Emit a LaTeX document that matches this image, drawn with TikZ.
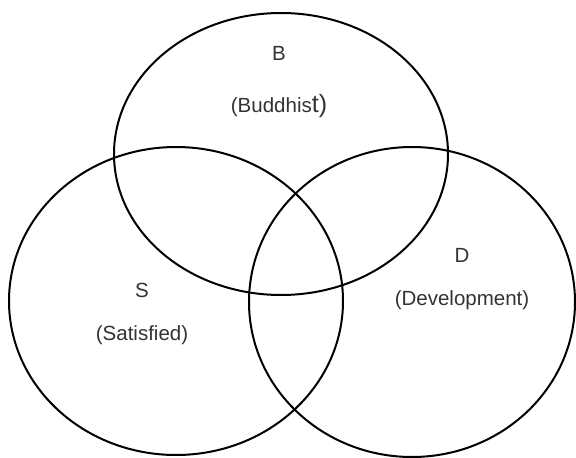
\documentclass[tikz,border=0pt]{standalone}
\usepackage{fontspec}
\setmainfont{Liberation Sans}
\usepackage{tikz}

\tikzset{
  set/.style={draw, line width=2pt},
  setname/.style={text=black!80, font=\fontsize{20.5}{24}\selectfont}
}

\begin{document}
\begin{tikzpicture}[x=1pt, y=-1pt]
  \useasboundingbox (0, 0) rectangle (576, 458);
  \draw [set] (281, 154) ellipse [x radius=167, y radius=141];
  \draw [set] (176, 301) ellipse [x radius=167, y radius=154];
  \draw [set] (412, 302) ellipse [x radius=163, y radius=155];
  \node (Bletter) at (279, 53) [setname] {B};
  \node (Bname) at (279, 106) [setname] {(Buddhis{\fontsize{25}{28}\selectfont t)}};
  \node (Sletter) at (142, 290) [setname] {S};
  \node (Sname) at (142, 335) [setname] {(Satisfied)};
  \node (Dletter) at (462, 255) [setname] {D};
  \node (Dname) at (462, 300) [setname] {(Development)};
\end{tikzpicture}
\end{document}
